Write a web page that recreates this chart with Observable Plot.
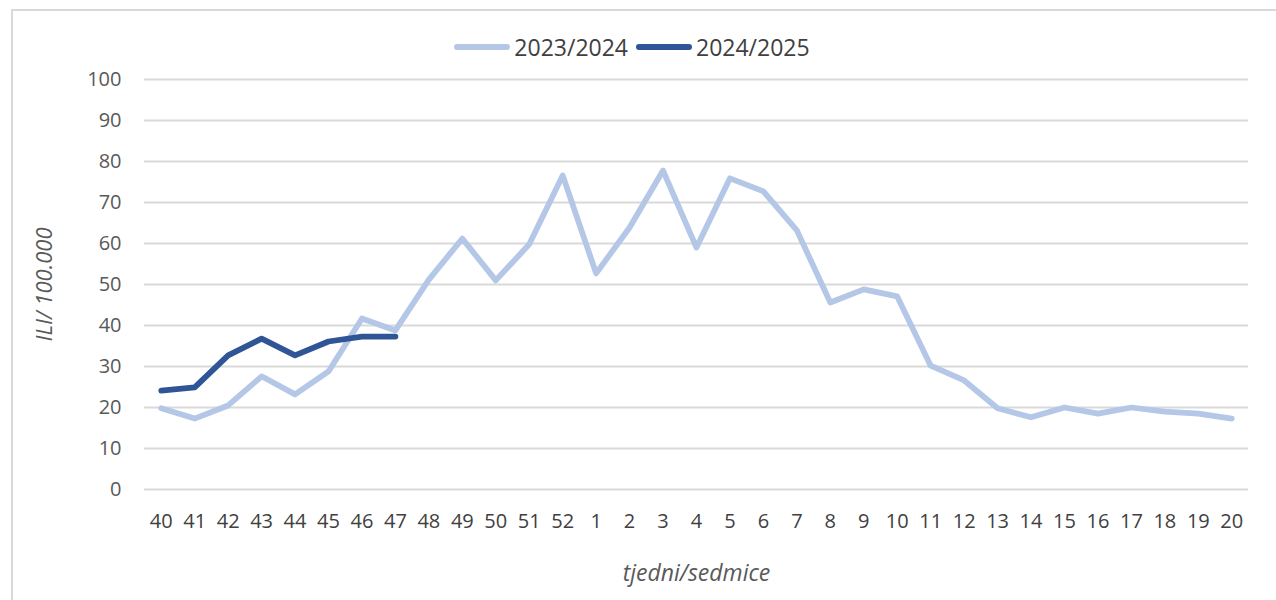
<!DOCTYPE html>
<html>
<head>
<meta charset="utf-8">
<script src="https://cdn.jsdelivr.net/npm/d3@7"></script>
<script src="https://cdn.jsdelivr.net/npm/@observablehq/plot@0.6"></script>
<style>
  html, body { margin: 0; padding: 0; background: #fff; overflow: hidden; }
  #wrap { position: relative; width: 1276px; height: 600px; font-family: "Open Sans", "Noto Sans", sans-serif; }
  #frame { position: absolute; left: 11px; top: 9px; width: 1270px; height: 620px; border: 2px solid #d9d9d9; box-sizing: border-box; }
  #chart { position: absolute; left: 0; top: 0; }
  #legend { position: absolute; top: 31px; left: 0; width: 1264px; display: flex; justify-content: center; align-items: center; font-size: 23px; color: #404040; }
  .item { display: flex; align-items: center; margin: 0 4px; }
  .sw { display: inline-block; width: 56px; height: 6px; border-radius: 3px; margin-right: 4px; }
</style>
</head>
<body>
<div id="wrap">
  <div id="frame"></div>
  <div id="chart"></div>
  <div id="legend"></div>
</div>
<script>
const weeks = ["40","41","42","43","44","45","46","47","48","49","50","51","52","1","2","3","4","5","6","7","8","9","10","11","12","13","14","15","16","17","18","19","20"];
const season2324 = [19.8,17.3,20.5,27.6,23.2,28.8,41.7,38.8,51.2,61.2,51.0,59.8,76.6,52.7,63.9,77.8,59.0,75.9,72.7,63.2,45.6,48.8,47.1,30.2,26.6,19.8,17.6,20.0,18.5,20.0,19.0,18.5,17.3];
const season2425 = [24.1,24.9,32.7,36.8,32.7,36.1,37.3,37.3];
const seriesNames = ["2023/2024", "2024/2025"];
const seriesColors = ["#b4c7e7", "#2f5597"];
const yTicks = [0,10,20,30,40,50,60,70,80,90,100];
const yLabel = "ILI/ 100.000";
const xLabel = "tjedni/sedmice";

const rows = [
  ...season2324.map((v, i) => ({week: weeks[i], value: v, series: seriesNames[0]})),
  ...season2425.map((v, i) => ({week: weeks[i], value: v, series: seriesNames[1]}))
];

const chart = Plot.plot({
  width: 1276,
  height: 600,
  marginTop: 79,
  marginBottom: 111,
  marginLeft: 144,
  marginRight: 28,
  style: {fontFamily: '"Open Sans", "Noto Sans", sans-serif', fontSize: "20px", background: "transparent", overflow: "visible"},
  x: {type: "point", domain: weeks, padding: 0.5, round: false},
  y: {domain: [0, 100]},
  color: {domain: seriesNames, range: seriesColors},
  marks: [
    Plot.gridY(yTicks, {stroke: "#d9d9d9", strokeOpacity: 1, strokeWidth: 2}),
    Plot.axisY(yTicks, {tickSize: 0, tickPadding: 23, fontSize: 20, color: "#595959", label: null}),
    Plot.axisX({tickSize: 0, tickPadding: 24, fontSize: 20, color: "#404040", label: null}),
    Plot.line(rows, {x: "week", y: "value", z: "series", stroke: "series", strokeWidth: 5.75, strokeLinejoin: "round", strokeLinecap: "round"}),
    Plot.text([yLabel], {frameAnchor: "left", textAnchor: "middle", lineAnchor: "middle", dx: -100, rotate: -90, fontSize: 22, fontStyle: "italic", fill: "#595959"}),
    Plot.text([xLabel], {frameAnchor: "bottom", textAnchor: "middle", lineAnchor: "middle", dy: 84, fontSize: 23, fontStyle: "italic", fill: "#595959"})
  ]
});
document.getElementById("chart").appendChild(chart);

const legend = document.getElementById("legend");
seriesNames.forEach((name, i) => {
  const item = document.createElement("div");
  item.className = "item";
  const sw = document.createElement("span");
  sw.className = "sw";
  sw.style.background = seriesColors[i];
  const t = document.createElement("span");
  t.textContent = name;
  item.appendChild(sw);
  item.appendChild(t);
  legend.appendChild(item);
});
</script>
</body>
</html>
